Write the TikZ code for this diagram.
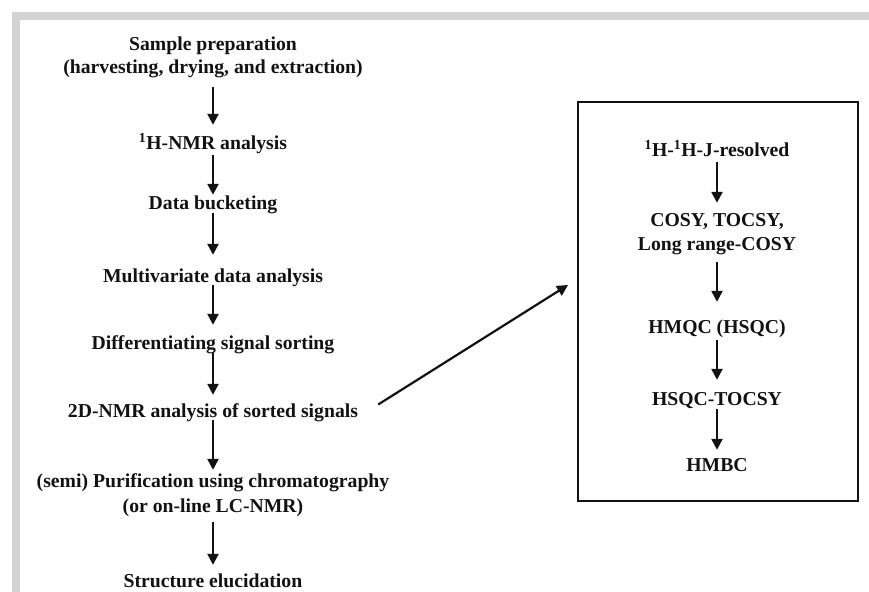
\documentclass[tikz,border=0pt]{standalone}
\usepackage{fontspec}
\setmainfont{Liberation Serif}
\usetikzlibrary{arrows.meta}
\definecolor{frame}{HTML}{D2D3D5}
\definecolor{ink}{HTML}{121212}
\begin{document}
\begin{tikzpicture}[x=1bp,y=-1bp,
  lbl/.style={anchor=base,inner sep=0pt,text height=13.5bp,text depth=4.5bp,text=ink,
    font=\fontsize{19.7bp}{23bp}\selectfont\bfseries},
  flow/.style={draw=ink,line width=2.4bp,-{Triangle[length=11bp,width=11bp]}}]
\useasboundingbox (0,0) rectangle (869,592);
\fill[white] (0,0) rectangle (869,592);
% gray frame
\fill[frame] (12,12) rectangle (869,20);
\fill[frame] (12,12) rectangle (20,592);
% left column
\node[lbl] (s1) at (213,51) {Sample preparation};
\node[lbl] (s2) at (213,74) {(harvesting, drying, and extraction)};
\node[lbl] (n2) at (213,150) {\textsuperscript{1}H-NMR analysis};
\node[lbl] (n3) at (213,210) {Data bucketing};
\node[lbl] (n4) at (213,282) {Multivariate data analysis};
\node[lbl] (n5) at (213,349) {Differentiating signal sorting};
\node[lbl] (n6) at (213,417) {2D-NMR analysis of sorted signals};
\node[lbl] (n7a) at (213,487) {(semi) Purification using chromatography};
\node[lbl] (n7b) at (213,512) {(or on-line LC-NMR)};
\node[lbl] (n8) at (213,587) {Structure elucidation};
\draw[flow,shorten <=8.5bp,shorten >=11.5bp] (s2.south) -- (n2.north);
\draw[flow,shorten <=0.5bp,shorten >=1.5bp] (n2.south) -- (n3.north);
\draw[flow,shorten <=-1.5bp,shorten >=13.5bp] (n3.south) -- (n4.north);
\draw[flow,shorten <=-1.5bp,shorten >=10.5bp] (n4.south) -- (n5.north);
\draw[flow,shorten <=-0.5bp,shorten >=8.5bp] (n5.south) -- (n6.north);
\draw[flow,shorten <=-1.5bp,shorten >=3.5bp] (n6.south) -- (n7a.north);
\draw[flow,shorten <=5.5bp,shorten >=8.5bp] (n7b.south) -- (n8.north);
% right box
\node[draw=ink,line width=2bp,minimum width=280bp,minimum height=399bp,inner sep=0pt] (box) at (718,301.5) {};
\node[lbl] (b1) at (717,157) {\textsuperscript{1}H-\textsuperscript{1}H-J-resolved};
\node[lbl] (b2a) at (717,227) {COSY, TOCSY,};
\node[lbl] (b2b) at (717,251) {Long range-COSY};
\node[lbl] (b3) at (717,333) {HMQC (HSQC)};
\node[lbl] (b4) at (717,405) {HSQC-TOCSY};
\node[lbl] (b5) at (717,471) {HMBC};
\draw[flow,shorten <=0.5bp,shorten >=10.5bp] (b1.south) -- (b2a.north);
\draw[flow,shorten <=6.5bp,shorten >=17.5bp] (b2b.south) -- (b3.north);
\draw[flow,shorten <=2.5bp,shorten >=11.5bp] (b3.south) -- (b4.north);
\draw[flow,shorten <=-0.5bp,shorten >=7.5bp] (b4.south) -- (b5.north);
% link to box
\draw[flow,line width=2.2bp] ([shift={(20,-8)}]n6.east) -- ([shift={(-9,-16.5)}]box.west);
\end{tikzpicture}
\end{document}
